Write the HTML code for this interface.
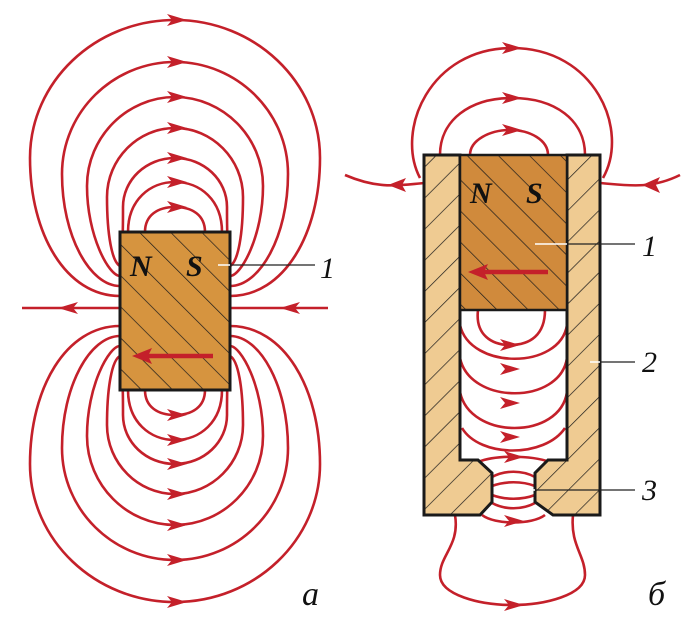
<!DOCTYPE html><html><head><style>body{margin:0;background:#fff}svg{display:block}</style></head><body>
<svg width="697" height="626" viewBox="0 0 697 626" xmlns="http://www.w3.org/2000/svg">
<defs>
<pattern id="h" width="22" height="22" patternUnits="userSpaceOnUse" patternTransform="rotate(-45)"><line x1="0" y1="0" x2="0" y2="22" stroke="#1a1a1a" stroke-width="1.4"/></pattern>
<pattern id="h2" width="22" height="22" patternUnits="userSpaceOnUse" patternTransform="rotate(45)"><line x1="0" y1="0" x2="0" y2="22" stroke="#1a1a1a" stroke-width="1.4"/></pattern>
<path id="ar" d="M-10,-6 L10,0 L-10,6 L-5,0z"/>
</defs>
<g fill="none" stroke="#c4202a" stroke-width="2.6">
<g id="tl">
<path d="M120,296 C66,296 30,234 30,158 C30,82 95,20 175,20 C255,20 320,82 320,158 C320,234 284,296 230,296"/>
<path d="M120,286 C90,286 62,236 62,174 C62,112 113,62 175,62 C237,62 288,112 288,174 C288,236 260,286 230,286"/>
<path d="M120,276 C109,276 87,236 87,186 C87,137 127,97 175,97 C223,97 263,137 263,186 C263,236 241,276 230,276"/>
<path d="M120,266 C112,262 107,235 107,197 C107,159 138,128 175,128 C212,128 243,159 243,197 C243,235 238,262 230,266"/>
<path d="M120,256 C123,245 123,230 123,207 C123,180 146,158 175,158 C204,158 227,180 227,207 C227,230 227,245 230,256"/>
<path d="M128,232 C128,200 150,182 175,182 C200,182 222,200 222,232"/>
<path d="M145,232 C145,215 158,207 175,207 C192,207 205,215 205,232"/>
</g>
<use href="#tl" transform="translate(0,622) scale(1,-1)"/>
<line x1="22" y1="308" x2="328" y2="308"/>
<!-- right top -->
<path d="M420,178 C395,130 430,48 512,48 C595,48 630,130 603,178"/>
<path d="M440,155 C440,120 470,98 512,98 C555,98 585,120 585,155"/>
<path d="M470,155 C470,140 490,130 510,130 C530,130 548,140 548,155"/>
<path d="M345,175 C380,190 400,185 425,183"/>
<path d="M680,175 C650,190 625,185 600,183"/>
<!-- cavity -->
<path d="M478,310 C475,335 492,345 510,345 C530,345 545,335 545,310"/>
<path d="M460,325 C470,370 560,370 567,325"/>
<path d="M460,358 C470,405 560,405 567,358"/>
<path d="M460,392 C470,440 560,440 567,392"/>
<path d="M462,428 C480,458 545,458 565,428"/>
<!-- gap -->
<path d="M478,462 C495,455 530,455 550,462"/>
<path d="M492,477 C505,470 522,470 535,477"/>
<path d="M492,486 C505,481 522,481 535,486"/>
<path d="M492,495 C505,500 522,500 535,495"/>
<path d="M492,503 C505,510 522,510 535,503"/>
<path d="M482,515 C495,525 532,525 545,515"/>
<path d="M455,515 C460,545 440,555 440,575 C440,595 480,605 512,605 C545,605 585,595 585,575 C585,555 570,545 573,515"/>
</g>
<g fill="#c4202a">
<use href="#ar" x="177" y="20"/><use href="#ar" x="177" y="62"/><use href="#ar" x="177" y="97"/><use href="#ar" x="177" y="128"/><use href="#ar" x="177" y="158"/><use href="#ar" x="177" y="182"/><use href="#ar" x="177" y="207"/>
<use href="#ar" x="177" y="602"/><use href="#ar" x="177" y="560"/><use href="#ar" x="177" y="525"/><use href="#ar" x="177" y="494"/><use href="#ar" x="177" y="464"/><use href="#ar" x="177" y="440"/><use href="#ar" x="177" y="415"/>
<use href="#ar" x="512" y="48"/><use href="#ar" x="512" y="98"/><use href="#ar" x="512" y="130"/>
<use href="#ar" x="510" y="345"/><use href="#ar" x="510" y="369"/><use href="#ar" x="510" y="403"/><use href="#ar" x="510" y="437"/>
<use href="#ar" x="514" y="605"/><use href="#ar" x="514" y="457"/><use href="#ar" x="514" y="521"/>
<path d="M58,308 L78,302 L73,308 L78,314z"/><path d="M280,308 L300,302 L295,308 L300,314z"/>
<path d="M388,185 L406,178 L402,185 L406,192z"/><path d="M642,185 L660,177 L656,185 L660,193z"/>
</g>
<rect x="120" y="232" width="110" height="158" fill="#d6943f" stroke="#1a1a1a" stroke-width="3"/>
<rect x="120" y="232" width="110" height="158" fill="url(#h)"/>
<line x1="213" y1="356" x2="145" y2="356" stroke="#c4202a" stroke-width="4.5"/>
<path d="M132,356 L152,348 L148,356 L152,364z" fill="#c4202a"/>
<path d="M424,155 L460,155 L460,460 L478,460 L492,473 L492,502 L480,515 L424,515z" fill="#efcb92" stroke="#1a1a1a" stroke-width="3"/>
<path d="M424,155 L460,155 L460,460 L478,460 L492,473 L492,502 L480,515 L424,515z" fill="url(#h2)"/>
<path d="M567,155 L600,155 L600,515 L553,515 L535,502 L535,473 L548,460 L567,460z" fill="#efcb92" stroke="#1a1a1a" stroke-width="3"/>
<path d="M567,155 L600,155 L600,515 L553,515 L535,502 L535,473 L548,460 L567,460z" fill="url(#h2)"/>
<rect x="460" y="155" width="107" height="155" fill="#d08a3c" stroke="#1a1a1a" stroke-width="2.5"/>
<rect x="460" y="155" width="107" height="155" fill="url(#h)"/>
<line x1="548" y1="272" x2="482" y2="272" stroke="#c4202a" stroke-width="4.5"/>
<path d="M468,272 L488,264 L484,272 L488,280z" fill="#c4202a"/>
<g stroke="#fff" stroke-width="1.5"><line x1="218" y1="265" x2="230" y2="265"/><line x1="535" y1="244" x2="567" y2="244"/><line x1="590" y1="362" x2="600" y2="362"/><line x1="520" y1="490" x2="535" y2="490"/></g>
<g stroke="#222" stroke-width="1.3"><line x1="230" y1="265" x2="315" y2="265"/><line x1="567" y1="244" x2="635" y2="244"/><line x1="600" y1="362" x2="635" y2="362"/><line x1="535" y1="490" x2="635" y2="490"/></g>
<g font-family="Liberation Serif, serif" font-style="italic" fill="#111">
<text x="130" y="276" font-size="30" font-weight="bold">N</text><text x="186" y="276" font-size="30" font-weight="bold">S</text>
<text x="470" y="203" font-size="30" font-weight="bold">N</text><text x="526" y="203" font-size="30" font-weight="bold">S</text>
<text x="320" y="278" font-size="30">1</text><text x="642" y="256" font-size="30">1</text>
<text x="642" y="372" font-size="30">2</text><text x="642" y="500" font-size="30">3</text>
<text x="302" y="605" font-size="34">a</text><text x="648" y="605" font-size="34">б</text>
</g>
</svg>
</body></html>
